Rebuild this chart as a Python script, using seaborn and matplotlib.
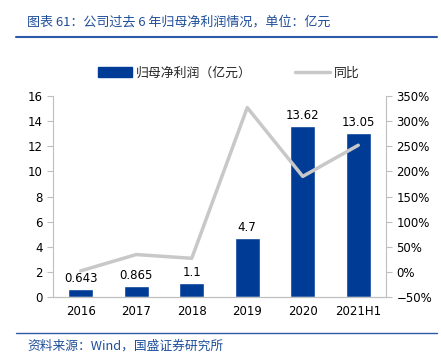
import matplotlib
matplotlib.use("Agg")
import matplotlib.pyplot as plt
import numpy as np
import pandas as pd
import seaborn as sns
from matplotlib.lines import Line2D
from matplotlib.patches import Patch
from matplotlib.ticker import PercentFormatter

sns.set_style("white")
plt.rcParams['font.family'] = ['DejaVu Sans', 'Noto Sans CJK SC']

years = ["2016", "2017", "2018", "2019", "2020", "2021H1"]
profit = [0.643, 0.865, 1.1, 4.7, 13.62, 13.05]
profit_labels = ["0.643", "0.865", "1.1", "4.7", "13.62", "13.05"]
yoy = [0.02, 0.345, 0.27, 3.27, 1.90, 2.52]

df = pd.DataFrame({"year": years, "profit": profit, "yoy": yoy})

bar_color = "#003C96"
line_color = "#C8C8C8"
text_blue = "#1F4E9A"
spine_color = "#BFBFBF"

fig = plt.figure(figsize=(4.41, 3.56), dpi=100)
ax = fig.add_axes([53 / 441, 1 - 297 / 356, 333 / 441, 201 / 356])

sns.barplot(data=df, x="year", y="profit", color=bar_color, width=0.45,
            saturation=1, ax=ax)
ax.set_ylim(0, 16)
ax.set_yticks(range(0, 17, 2))
ax.set_xlim(-0.5, 5.5)
ax.set_xlabel("")
ax.set_ylabel("")

# line sits on top of bars
ax2 = ax.twinx()
sns.lineplot(data=df, x="year", y="yoy", color=line_color, linewidth=2.5,
             ax=ax2, sort=False)
ax2.set_ylim(-0.5, 3.5)
ax2.set_yticks(np.arange(-0.5, 3.51, 0.5))
ax2.yaxis.set_major_formatter(PercentFormatter(1.0, decimals=0))
ax2.set_xlabel("")
ax2.set_ylabel("")

for i, (v, lab) in enumerate(zip(profit, profit_labels)):
    ax2.text(i, v + 0.35, lab, ha="center", va="bottom", fontsize=8.5,
             color="#000000", transform=ax.transData, zorder=5)

for a in (ax, ax2):
    a.spines["top"].set_visible(False)
    for s in ("left", "right", "bottom"):
        a.spines[s].set_color(spine_color)
        a.spines[s].set_linewidth(0.8)
    a.tick_params(labelsize=8.5, colors="#000000", length=4, width=0.8)
    a.tick_params(axis="both", color=spine_color)
ax.spines["right"].set_visible(False)
ax2.spines["left"].set_visible(False)

ax.set_xticks(range(len(years)))
ax.set_xticklabels(years)
ax.tick_params(axis="x", length=0, pad=6)
ax.set_xticks(np.arange(0.5, 5.5, 1), minor=True)
ax.tick_params(axis="x", which="minor", length=4, color=spine_color,
               direction="in")

handles = [Patch(color=bar_color, label="归母净利润（亿元）"),
           Line2D([0], [0], color=line_color, lw=2.5, label="同比")]
fig.legend(handles=handles, loc="center", bbox_to_anchor=(0.518, 1 - 73 / 356),
           ncol=2, frameon=False, handlelength=2.7,
           columnspacing=3.3, handletextpad=0.3,
           prop={"family": ["Noto Sans CJK SC"], "size": 9.3})

# header and footer
fig.text(27 / 441, 1 - 22 / 356, "图表 61：公司过去 6 年归母净利润情况，单位：亿元",
         fontsize=9.4, color=text_blue, style="italic", va="center",
         family=["Noto Sans CJK SC", "DejaVu Sans"])
fig.add_artist(Line2D([16 / 441, 437 / 441], [1 - 37 / 356, 1 - 37 / 356],
                      color="#2E5AA8", lw=1.5))
fig.add_artist(Line2D([16 / 441, 437 / 441], [1 - 333 / 356, 1 - 333 / 356],
                      color="#2E5AA8", lw=1.0))
fig.text(27 / 441, 1 - 346 / 356, "资料来源：Wind，国盛证券研究所",
         fontsize=9.2, color=text_blue, style="italic", va="center",
         family=["Noto Sans CJK SC", "DejaVu Sans"])

fig.savefig("out.png", dpi=100)
